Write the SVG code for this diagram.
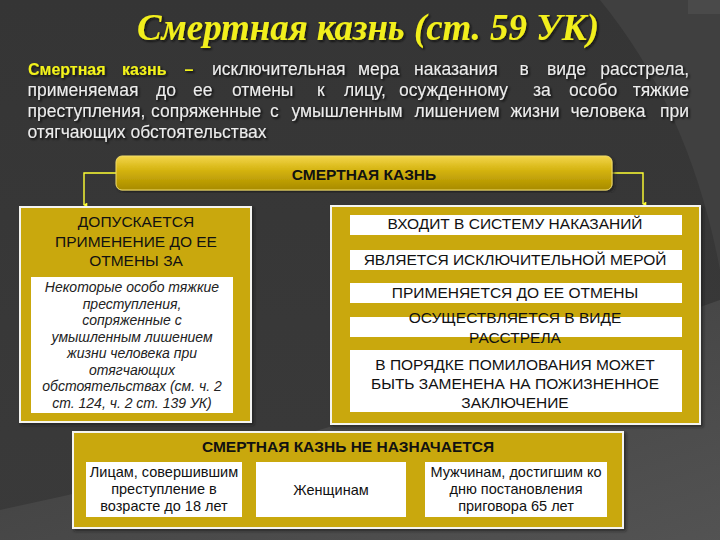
<svg xmlns="http://www.w3.org/2000/svg" width="720" height="540" viewBox="0 0 720 540">
<defs>
<linearGradient id="bg" x1="0" y1="0" x2="0" y2="1">
<stop offset="0" stop-color="#353535"/>
<stop offset="1" stop-color="#3a3a3a"/>
</linearGradient>
<linearGradient id="swoosh" x1="0" y1="0" x2="1" y2="1">
<stop offset="0" stop-color="#3c3c3c"/>
<stop offset="1" stop-color="#575757"/>
</linearGradient>
<linearGradient id="gold" x1="0" y1="0" x2="0" y2="1">
<stop offset="0" stop-color="#f3d54a"/>
<stop offset="0.45" stop-color="#d2b10c"/>
<stop offset="1" stop-color="#a88b00"/>
</linearGradient>
<filter id="tsh" x="-5%" y="-20%" width="110%" height="150%">
<feDropShadow dx="1.5" dy="1.5" stdDeviation="0.8" flood-color="#111" flood-opacity="0.9"/>
</filter>
<filter id="psh" x="-5%" y="-5%" width="112%" height="112%">
<feDropShadow dx="2" dy="2" stdDeviation="1.5" flood-color="#1a1a1a" flood-opacity="0.7"/>
</filter>
<marker id="arr" viewBox="0 0 6 6" refX="3" refY="5" markerWidth="5" markerHeight="5" orient="auto-start-reverse" markerUnits="userSpaceOnUse">
<path d="M0,1 L3,6 L6,1 Z" fill="#ffff33"/>
</marker>
<style>
.panel{fill:#c9a80d;stroke:#f4f4f0;stroke-width:2}
.wbox{fill:#ffffff}
.cap{font-family:"Liberation Sans",Arial,sans-serif;font-size:15.5px;fill:#111;text-anchor:middle}
.capb{font-family:"Liberation Sans",Arial,sans-serif;font-size:15.5px;font-weight:bold;fill:#111;text-anchor:middle}
.it{font-family:"Liberation Sans",Arial,sans-serif;font-style:italic;font-size:14px;fill:#222;text-anchor:middle}
.sm{font-family:"Liberation Sans",Arial,sans-serif;font-size:14.5px;fill:#111;text-anchor:middle}
.body{font-family:"Liberation Sans",Arial,sans-serif;font-size:17.5px;fill:#ececec}
.yb{fill:#f2f21a;font-weight:bold;font-size:16px}
.conn{fill:none;stroke:#ffff33;stroke-width:1.4}
</style>
</defs>

<rect x="0" y="0" width="720" height="540" fill="url(#bg)"/>
<path d="M600,0 Q690,110 720,270 L720,0 Z" fill="#404040"/>
<path d="M0,540 L0,510 Q330,440 720,300 L720,540 Z" fill="url(#swoosh)" opacity="0.85"/>
<rect x="688" y="0" width="32" height="14" fill="#4a4a4a"/>

<g id="title">
<text x="137" y="40" textLength="462" lengthAdjust="spacingAndGlyphs" font-family="'Liberation Serif','DejaVu Serif',serif" font-style="italic" font-weight="bold" font-size="37" fill="#f2ef1e" filter="url(#tsh)">Смертная казнь (ст. 59 УК)</text>
</g>

<g id="definition" class="body" filter="url(#tsh)">
<text y="75"><tspan class="yb" x="28">Смертная</tspan><tspan class="yb" x="122">казнь</tspan><tspan class="yb" x="184.5">–</tspan><tspan x="212">исключительная</tspan><tspan x="358">мера</tspan><tspan x="414">наказания</tspan><tspan x="519.5">в</tspan><tspan x="547">виде</tspan></text>
<text y="75" x="689" text-anchor="end">расстрела,</text>
<text y="96"><tspan x="27.5">применяемая</tspan><tspan x="156">до</tspan><tspan x="193">ее</tspan><tspan x="232">отмены</tspan><tspan x="317">к</tspan><tspan x="344">лицу,</tspan><tspan x="399">осужденному</tspan><tspan x="533">за</tspan><tspan x="569">особо</tspan></text>
<text y="96" x="689" text-anchor="end">тяжкие</text>
<text y="117"><tspan x="27.5">преступления,</tspan><tspan x="151">сопряженные</tspan><tspan x="270">с</tspan><tspan x="291.5">умышленным</tspan><tspan x="414.5">лишением</tspan><tspan x="510.5">жизни</tspan><tspan x="570.5">человека</tspan></text>
<text y="117" x="689" text-anchor="end">при</text>
<text y="138" x="27.5">отягчающих обстоятельствах</text>
</g>

<g id="connectors">
<path class="conn" d="M116,173 H84 V205" marker-end="url(#arr)"/>
<path class="conn" d="M612,173 H643 V204" marker-end="url(#arr)"/>
</g>

<g id="node-main">
<rect x="116" y="156" width="496" height="34" rx="6" fill="url(#gold)" stroke="#f0dc6a" stroke-width="1" filter="url(#psh)"/>
<text x="364" y="180" class="capb" font-size="18">СМЕРТНАЯ КАЗНЬ</text>
</g>

<g id="node-left">
<rect class="panel" x="20" y="207" width="231" height="215" filter="url(#psh)"/>
<text class="cap" x="136" y="227">ДОПУСКАЕТСЯ</text>
<text class="cap" x="136" y="247">ПРИМЕНЕНИЕ ДО ЕЕ</text>
<text class="cap" x="136" y="266">ОТМЕНЫ ЗА</text>
<rect class="wbox" x="31" y="277" width="202" height="136"/>
<text class="it" x="132" y="292">Некоторые особо тяжкие</text>
<text class="it" x="132" y="308.5">преступления,</text>
<text class="it" x="132" y="325">сопряженные с</text>
<text class="it" x="132" y="341.5">умышленным лишением</text>
<text class="it" x="132" y="358">жизни человека при</text>
<text class="it" x="132" y="374.5">отягчающих</text>
<text class="it" x="132" y="391">обстоятельствах (см. ч. 2</text>
<text class="it" x="132" y="407.5">ст. 124, ч. 2 ст. 139 УК)</text>
</g>

<g id="node-right">
<rect class="panel" x="331" y="206" width="369" height="218" filter="url(#psh)"/>
<rect class="wbox" x="350" y="215" width="332" height="20"/>
<text class="cap" x="515" y="229">ВХОДИТ В СИСТЕМУ НАКАЗАНИЙ</text>
<rect class="wbox" x="350" y="250" width="332" height="20"/>
<text class="cap" x="515" y="265">ЯВЛЯЕТСЯ ИСКЛЮЧИТЕЛЬНОЙ МЕРОЙ</text>
<rect class="wbox" x="350" y="283" width="332" height="20"/>
<text class="cap" x="515" y="298">ПРИМЕНЯЕТСЯ ДО ЕЕ ОТМЕНЫ</text>
<rect class="wbox" x="350" y="317" width="332" height="20"/>
<text class="cap" x="515" y="323">ОСУЩЕСТВЛЯЕТСЯ В ВИДЕ</text>
<text class="cap" x="515" y="343">РАССТРЕЛА</text>
<rect class="wbox" x="350" y="350" width="332" height="62"/>
<text class="cap" x="515" y="370">В ПОРЯДКЕ ПОМИЛОВАНИЯ МОЖЕТ</text>
<text class="cap" x="515" y="389">БЫТЬ ЗАМЕНЕНА НА ПОЖИЗНЕННОЕ</text>
<text class="cap" x="515" y="408">ЗАКЛЮЧЕНИЕ</text>
</g>

<g id="node-bottom">
<rect class="panel" x="73" y="432" width="550" height="96" filter="url(#psh)"/>
<text class="capb" x="348" y="452">СМЕРТНАЯ КАЗНЬ НЕ НАЗНАЧАЕТСЯ</text>
<rect class="wbox" x="86" y="462" width="156" height="55"/>
<text class="sm" x="164" y="477">Лицам, совершившим</text>
<text class="sm" x="164" y="494">преступление в</text>
<text class="sm" x="164" y="511">возрасте до 18 лет</text>
<rect class="wbox" x="256" y="462" width="150" height="55"/>
<text class="sm" x="331" y="495" font-size="16">Женщинам</text>
<rect class="wbox" x="425" y="462" width="182" height="55"/>
<text class="sm" x="516" y="477">Мужчинам, достигшим ко</text>
<text class="sm" x="516" y="494">дню постановления</text>
<text class="sm" x="516" y="511">приговора 65 лет</text>
</g>
</svg>
